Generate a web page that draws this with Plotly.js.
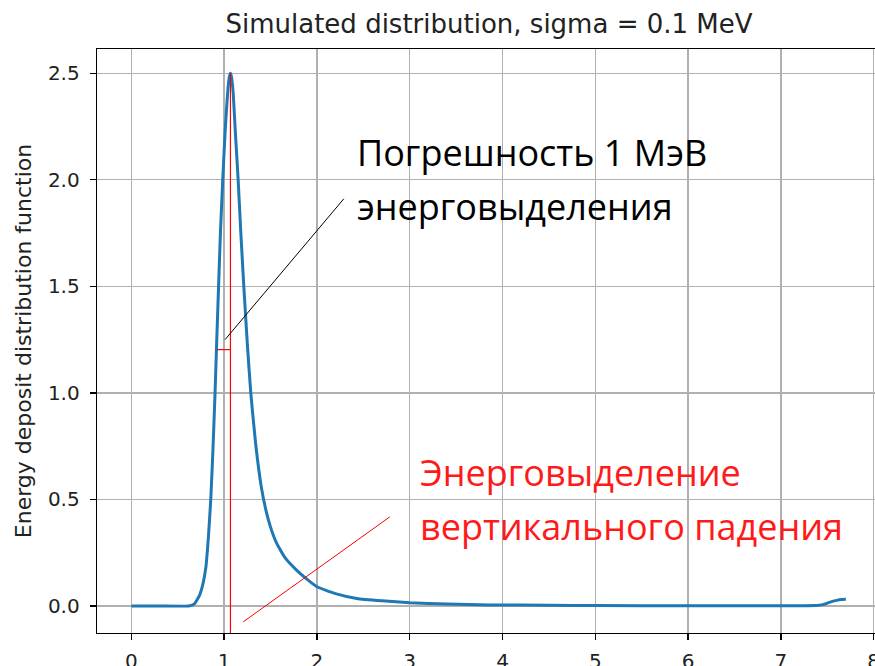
<!DOCTYPE html>
<html>
<head>
<meta charset="utf-8">
<script src="https://cdn.plot.ly/plotly-3.0.1.min.js"></script>
<style>
html,body{margin:0;padding:0;overflow:hidden;background:#fff;}
#chart{width:890px;height:666px;}
</style>
</head>
<body>
<div id="chart"></div>
<script>
// ---- data ----
const energy = [0, 0.3, 0.62, 0.68, 0.735, 0.77, 0.803, 0.83, 0.856, 0.88, 0.902, 0.92, 0.94, 0.96, 0.985, 1.01, 1.03, 1.042, 1.055, 1.068, 1.08, 1.098, 1.12, 1.151, 1.18, 1.212, 1.25, 1.287, 1.34, 1.40, 1.45, 1.50, 1.56, 1.65, 1.78, 1.888, 2.0, 2.2, 2.43, 2.7, 3.0, 3.4, 3.86, 4.5, 5.0, 6.0, 7.0, 7.38, 7.45, 7.53, 7.6, 7.65, 7.7];
const density = [0, 0, 0, 0.01, 0.05, 0.1, 0.181, 0.32, 0.5, 0.74, 1.0, 1.24, 1.5, 1.75, 2.0, 2.22, 2.36, 2.43, 2.48, 2.5, 2.48, 2.404, 2.23, 2.0, 1.75, 1.5, 1.23, 1.0, 0.76, 0.56, 0.45, 0.37, 0.30, 0.23, 0.168, 0.127, 0.09, 0.058, 0.035, 0.024, 0.015, 0.009, 0.005, 0.003, 0.002, 0.001, 0.001, 0.002, 0.006, 0.018, 0.026, 0.03, 0.031];

// annotation segments (data coordinates)
const peakLineX = [1.068, 1.068];
const peakLineY = [-0.3, 2.5];
const errBarX = [0.926, 1.068];
const errBarY = [1.203, 1.203];
const blackPointerX = [1.01, 2.29];
const blackPointerY = [1.25, 1.911];
const redPointerX = [1.205, 2.785];
const redPointerY = [-0.075, 0.418];

const xTicks = [0, 1, 2, 3, 4, 5, 6, 7, 8];
const yTicks = [0.0, 0.5, 1.0, 1.5, 2.0, 2.5];
const yTickText = ['0.0', '0.5', '1.0', '1.5', '2.0', '2.5'];

const titleText = 'Simulated distribution, sigma = 0.1 MeV';
const yTitleText = 'Energy deposit distribution function';
const blackLabel = ['Погрешность 1 МэВ', 'энерговыделения'];
const redLabel = ['Энерговыделение', 'вертикального падения'];

const traces = [
  {x: energy, y: density, mode: 'lines', line: {color: '#1f77b4', width: 3, shape: 'spline', smoothing: 0.4}, hoverinfo: 'skip'},
  {x: peakLineX, y: peakLineY, mode: 'lines', line: {color: '#ff0000', width: 1.2}, hoverinfo: 'skip'},
  {x: errBarX, y: errBarY, mode: 'lines', line: {color: '#ff0000', width: 1.2}, hoverinfo: 'skip'},
  {x: blackPointerX, y: blackPointerY, mode: 'lines', line: {color: '#000000', width: 1}, hoverinfo: 'skip'},
  {x: redPointerX, y: redPointerY, mode: 'lines', line: {color: '#ff0000', width: 1}, hoverinfo: 'skip'}
];

const axisFont = {family: 'DejaVu Sans', size: 20, color: '#222'};
const textFont = 'Open Sans, Noto Sans, sans-serif';

const layout = {
  width: 890, height: 666,
  margin: {l: 97, r: 7, t: 49, b: 33, pad: 0},
  paper_bgcolor: '#fff', plot_bgcolor: '#fff',
  showlegend: false,
  title: {text: titleText, font: {family: 'DejaVu Sans', size: 26, color: '#222'}, x: 489/890, xanchor: 'center', xref: 'container', y: 1 - 24/666, yanchor: 'middle', yref: 'container'},
  xaxis: {
    range: [-0.37, 8.1], tickvals: xTicks, ticktext: xTicks.map(String),
    showgrid: true, gridcolor: '#b0b0b0', gridwidth: 1.3,
    showline: true, linecolor: '#000', linewidth: 1.3, mirror: true,
    ticks: 'outside', ticklen: 6, tickwidth: 1.3, tickcolor: '#000',
    tickfont: axisFont, zeroline: false, automargin: false, ticklabelstandoff: 4
  },
  yaxis: {
    range: [-0.127, 2.614], tickvals: yTicks, ticktext: yTickText,
    showgrid: true, gridcolor: '#b0b0b0', gridwidth: 1.3,
    showline: true, linecolor: '#000', linewidth: 1.3, mirror: true,
    ticks: 'outside', ticklen: 6, tickwidth: 1.3, tickcolor: '#000',
    tickfont: axisFont, zeroline: false, automargin: false, ticklabelstandoff: 6,
    title: {text: yTitleText, font: {family: 'DejaVu Sans', size: 22, color: '#222'}, standoff: 10}
  },
  annotations: [
    {text: blackLabel[0], x: 2.406, y: 2.126, xref: 'x', yref: 'y', xanchor: 'left', yanchor: 'middle', showarrow: false, font: {family: textFont, size: 36, color: '#000'}},
    {text: blackLabel[1], x: 2.406, y: 1.873, xref: 'x', yref: 'y', xanchor: 'left', yanchor: 'middle', showarrow: false, font: {family: textFont, size: 36, color: '#000'}},
    {text: redLabel[0], x: 3.085, y: 0.628, xref: 'x', yref: 'y', xanchor: 'left', yanchor: 'middle', showarrow: false, font: {family: textFont, size: 36, color: '#ff1a1a'}},
    {text: redLabel[1], x: 3.085, y: 0.375, xref: 'x', yref: 'y', xanchor: 'left', yanchor: 'middle', showarrow: false, font: {family: textFont, size: 36, color: '#ff1a1a'}}
  ]
};

Plotly.newPlot('chart', traces, layout, {staticPlot: true, displayModeBar: false});
</script>
</body>
</html>
